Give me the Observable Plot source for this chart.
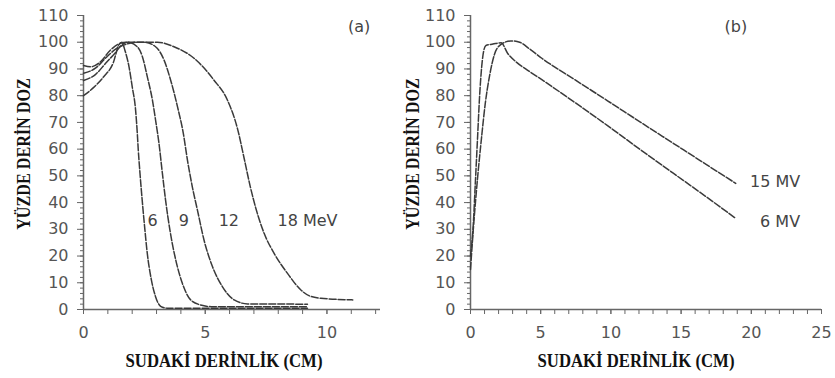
<!DOCTYPE html>
<html><head><meta charset="utf-8">
<script src="https://cdn.jsdelivr.net/npm/d3@7"></script>
<script src="https://cdn.jsdelivr.net/npm/@observablehq/plot@0.6"></script>
<style>
html,body{margin:0;padding:0;background:#fff;}
#wrap{position:relative;width:835px;height:378px;overflow:hidden;background:#fff;}
.panel{position:absolute;top:0;}
.panel svg{overflow:visible;display:block;}
.ttl{position:absolute;font-family:"Liberation Serif","Times New Roman",serif;font-weight:bold;font-size:19px;color:#111;white-space:nowrap;line-height:1;}
</style></head><body>
<div id="wrap">
  <div class="panel" id="pa" style="left:0px"></div>
  <div class="panel" id="pb" style="left:415px"></div>
  <div class="ttl" style="left:23px;top:154px;transform:translate(-50%,-50%) rotate(-90deg) scaleX(0.85)">YÜZDE DERİN DOZ</div>
  <div class="ttl" style="left:412px;top:154px;transform:translate(-50%,-50%) rotate(-90deg) scaleX(0.85)">YÜZDE DERİN DOZ</div>
  <div class="ttl" style="left:224px;top:360px;transform:translate(-50%,-50%) scaleX(0.88)">SUDAKİ DERİNLİK (CM)</div>
  <div class="ttl" style="left:636px;top:360px;transform:translate(-50%,-50%) scaleX(0.88)">SUDAKİ DERİNLİK (CM)</div>
</div>
<script>
// ---- Data (depth in cm, percent depth dose) ----
const e6MeV = [[0,80],[0.41,83],[0.82,87],[1.23,92.5],[1.45,99],[1.58,100],[1.7,97],[1.87,90.8],[2.0,83.4],[2.14,74.6],[2.21,65.9],[2.25,59.7],[2.32,51],[2.41,41],[2.51,31],[2.62,21],[2.79,11],[2.96,4.8],[3.17,1.2],[3.43,0.5],[9.2,0.5]];
const e9MeV = [[0,85.7],[0.5,88],[0.9,92],[1.3,96],[1.6,99.2],[1.8,100],[2.21,98.3],[2.42,94.6],[2.62,87.1],[2.83,78.4],[2.96,70.9],[3.1,62.2],[3.24,51],[3.37,41],[3.55,29.7],[3.79,18.5],[4.06,9.8],[4.4,3.6],[4.81,1.7],[5.35,1.0],[9.2,1.0]];
const e12MeV = [[0,88.4],[0.49,90.3],[0.91,94.1],[1.32,97.4],[1.85,99.5],[2.14,100],[2.48,100],[2.96,98.3],[3.31,93.3],[3.58,85.8],[3.86,75.9],[4.1,65.9],[4.27,55.9],[4.47,45.9],[4.68,37.2],[4.95,26],[5.3,16],[5.71,8.5],[6.19,3.6],[6.74,2.1],[9.2,2.0]];
const e18MeV = [[0,91.3],[0.29,90.8],[0.7,92.7],[1.11,97.1],[1.52,99.6],[1.81,100],[3.04,100],[3.72,98.3],[4.54,94],[5.36,85.8],[5.91,78.4],[6.33,67.5],[6.6,56.5],[6.85,46],[7.1,37.2],[7.42,28.5],[7.83,21],[8.38,13.5],[8.93,7.3],[9.28,5.1],[9.75,4.2],[11.06,3.6]];

const x6MV = [[0,20],[0.2,32],[0.35,48],[0.5,64],[0.65,80],[0.8,91],[0.95,97],[1.1,98.8],[1.6,99.3],[2.18,99.8],[2.65,95.8],[3.23,92.7],[4.05,89.6],[5.08,86],[7.42,77.5],[9.76,68.8],[12.1,59.8],[14.44,51],[16.78,42.2],[18.89,34.1]];
const x15MV = [[0,15],[0.2,30],[0.5,49],[0.8,65],[1.05,77],[1.36,87.5],[1.71,95.5],[2.13,99],[2.88,100.5],[3.5,100],[4.2,97.5],[5.08,94],[7.42,86],[9.76,78.1],[12.1,70.1],[14.44,62.2],[16.78,54.3],[18.89,47.2]];

const labelsA = [
  {text: "6", x: 2.84, y: 33},
  {text: "9", x: 4.12, y: 33},
  {text: "12", x: 5.97, y: 33},
  {text: "18 MeV", x: 9.2, y: 33},
  {text: "(a)", x: 11.32, y: 105.7}
];
const labelsB = [
  {text: "15 MV", x: 21.7, y: 47.7},
  {text: "6 MV", x: 22.05, y: 32.7},
  {text: "(b)", x: 18.9, y: 105.7}
];

const yMajor = d3.range(0, 111, 10);
const yMinor = d3.range(0, 111, 2);
const xMajorA = [0, 5, 10];
const xMinorA = d3.range(0, 13, 1);
const xMajorB = [0, 5, 10, 15, 20, 25];
const xMinorB = d3.range(0, 25, 1);

const LINE = "#3a3a3a", AXIS = "#666", TEXT = "#555";

function panel({series, labels, xDomain, xMajor, xMinor, width, marginLeft, marginRight}) {
  return Plot.plot({
    width, height: 378, marginLeft, marginRight, marginTop: 15, marginBottom: 69,
    x: {domain: xDomain},
    y: {domain: [0, 110]},
    style: {fontFamily: "DejaVu Sans, sans-serif", fontSize: "16px", background: "transparent", overflow: "visible"},
    marks: [
      Plot.axisY({ticks: yMinor, tickSize: 3, tickFormat: () => "", label: null, stroke: AXIS}),
      Plot.axisY({ticks: yMajor, tickSize: 6, tickPadding: 9, label: null, stroke: AXIS, fill: TEXT, fontSize: 16}),
      Plot.axisX({ticks: xMinor, tickSize: 5, tickFormat: () => "", label: null, stroke: AXIS}),
      Plot.axisX({ticks: xMajor, tickSize: 5, tickPadding: 12, label: null, stroke: AXIS, fill: TEXT, fontSize: 16}),
      Plot.ruleX([xDomain[0]], {stroke: AXIS, strokeWidth: 1.5}),
      Plot.ruleY([0], {stroke: AXIS, strokeWidth: 1.5}),
      ...series.map(s => Plot.line(s, {x: d => d[0], y: d => d[1], curve: "monotone-x", stroke: LINE, strokeWidth: 1.5, strokeDasharray: "7,2"})),
      Plot.text(labels, {x: "x", y: "y", text: "text", fill: "#444", fontSize: 16, textAnchor: "middle"})
    ]
  });
}

document.getElementById("pa").append(panel({
  series: [e6MeV, e9MeV, e12MeV, e18MeV], labels: labelsA,
  xDomain: [0, 12.2], xMajor: xMajorA, xMinor: xMinorA,
  width: 415, marginLeft: 83, marginRight: 35
}));
document.getElementById("pb").append(panel({
  series: [x6MV, x15MV], labels: labelsB,
  xDomain: [0, 25], xMajor: xMajorB, xMinor: xMinorB,
  width: 420, marginLeft: 55, marginRight: 14
}));
</script>
</body></html>
